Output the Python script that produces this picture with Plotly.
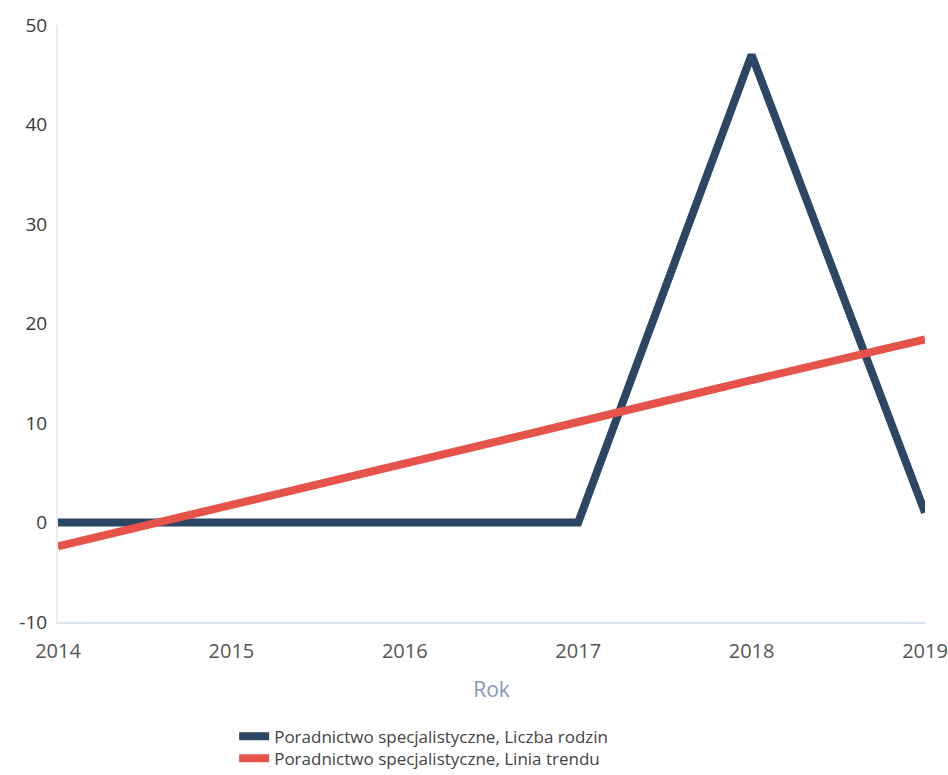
import plotly.graph_objects as go

years = [2014, 2015, 2016, 2017, 2018, 2019]
liczba_rodzin = [0, 0, 0, 0, 47, 1]
linia_trendu = [-2.4, 1.7, 5.9, 10.1, 14.3, 18.4]
y_ticks = [-10, 0, 10, 20, 30, 40, 50]
name_a = "Poradnictwo specjalistyczne, Liczba rodzin"
name_b = "Poradnictwo specjalistyczne, Linia trendu"
col_a = "#2b4763"
col_b = "#e5534b"

fig = go.Figure()
fig.add_trace(go.Scatter(x=years, y=liczba_rodzin, mode="lines", name=name_a,
                         line=dict(color=col_a, width=8), legend="legend", showlegend=True))
fig.add_trace(go.Scatter(x=years, y=linia_trendu, mode="lines", name=name_b,
                         line=dict(color=col_b, width=8), legend="legend2", showlegend=True))

leg_font = dict(size=17, color="#444", family="Open Sans, sans-serif")
fig.update_layout(
    width=948, height=775, showlegend=True,
    margin=dict(l=58, r=23, t=25, b=153, autoexpand=False),
    paper_bgcolor="white", plot_bgcolor="white",
    font=dict(family="Open Sans, Roboto, sans-serif", color="#333"),
    xaxis=dict(range=[2014, 2019], tickvals=years, ticktext=[str(y) for y in years],
               automargin=False,
               showgrid=False, zeroline=False, showline=True, linecolor="#dce6f2", linewidth=2,
               tickfont=dict(size=20, color="#555"), ticks="", ticklabelstandoff=10,
               title=dict(text="Rok", font=dict(size=21, color="#8796c0"), standoff=19)),
    yaxis=dict(range=[-10, 50], tickvals=y_ticks, ticktext=[str(v) for v in y_ticks],
               automargin=False,
               showgrid=False, zeroline=False, showline=True, linecolor="#eeeeee", linewidth=2,
               tickfont=dict(size=19, color="#3a3a3a"), ticks="", ticklabelstandoff=5),
    legend=dict(xref="container", yref="container", x=0.247, xanchor="left",
                y=0.0495, yanchor="middle", font=leg_font, visible=True,
                itemwidth=30, bgcolor="rgba(0,0,0,0)"),
    legend2=dict(xref="container", yref="container", x=0.247, xanchor="left",
                 y=0.021, yanchor="middle", font=leg_font, visible=True,
                 itemwidth=30, bgcolor="rgba(0,0,0,0)"),
)
fig.write_html("out.html", config={"displayModeBar": False},
               post_script="document.body.style.margin='0';document.body.style.overflow='hidden';")
